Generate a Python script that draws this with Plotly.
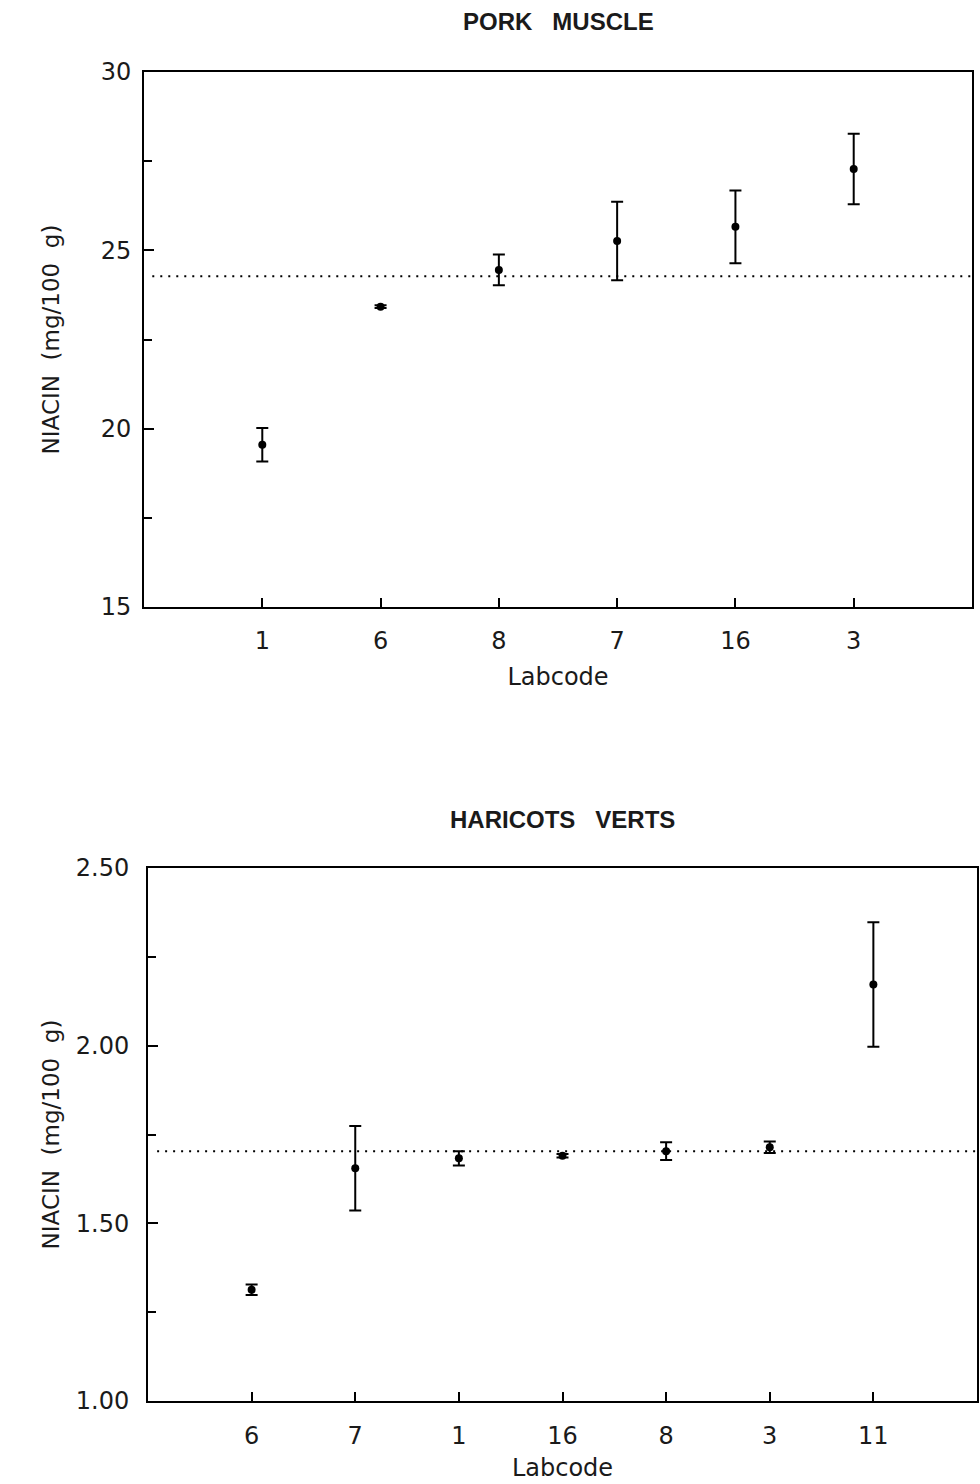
import plotly.graph_objects as go

# ---- data: PORK MUSCLE ----
pork_labs = ["1", "6", "8", "7", "16", "3"]
pork_mean = [19.55, 23.42, 24.45, 25.26, 25.66, 27.28]
pork_err = [0.47, 0.04, 0.43, 1.10, 1.02, 0.99]
pork_overall = 24.27

# ---- data: HARICOTS VERTS ----
hv_labs = ["6", "7", "1", "16", "8", "3", "11"]
hv_mean = [1.313, 1.655, 1.683, 1.690, 1.703, 1.714, 2.172]
hv_err = [0.015, 0.119, 0.020, 0.005, 0.025, 0.016, 0.175]
hv_overall = 1.703

W, H = 980, 1484
FONT = "DejaVu Sans, sans-serif"
TFONT = "Liberation Sans, Arial, sans-serif"
INK = "#1a1a1a"

fig = go.Figure()

fig.add_trace(go.Scatter(
    x=pork_labs, y=pork_mean, mode="markers", xaxis="x", yaxis="y",
    marker=dict(color="black", size=8),
    error_y=dict(type="data", array=pork_err, visible=True, color="black",
                 thickness=2, width=6),
    showlegend=False))

fig.add_trace(go.Scatter(
    x=hv_labs, y=hv_mean, mode="markers", xaxis="x2", yaxis="y2",
    marker=dict(color="black", size=8),
    error_y=dict(type="data", array=hv_err, visible=True, color="black",
                 thickness=2, width=6),
    showlegend=False))

# overall mean reference lines
fig.add_shape(type="line", xref="x domain", yref="y", x0=0.01, x1=1,
              y0=pork_overall, y1=pork_overall,
              line=dict(color="black", width=2, dash="2px,6px"))
fig.add_shape(type="line", xref="x2 domain", yref="y2", x0=0.011, x1=1,
              y0=hv_overall, y1=hv_overall,
              line=dict(color="black", width=2, dash="2px,6px"))

axis_common = dict(showline=True, linecolor="black", linewidth=2, mirror=True,
                   showgrid=False, zeroline=False, ticks="inside",
                   tickcolor="black", tickwidth=2, automargin=False,
                   tickfont=dict(family=FONT, size=24, color=INK))

def yd(top, bottom):
    return [1 - bottom / H, 1 - top / H]

ytitle = "NIACIN\u00a0\u00a0(mg/100\u00a0\u00a0g)"

fig.update_layout(
    width=W, height=H, margin=dict(l=0, r=0, t=0, b=0, autoexpand=False),
    paper_bgcolor="white", plot_bgcolor="white",
    xaxis=dict(axis_common, domain=[144 / W, 972 / W], anchor="y",
               type="category", categoryorder="array", categoryarray=pork_labs,
               range=[-1, len(pork_labs)], ticklen=9, ticklabelstandoff=11,
               title=dict(text="Labcode", standoff=14,
                          font=dict(family=FONT, size=24, color=INK))),
    yaxis=dict(axis_common, domain=yd(72, 607), anchor="x",
               range=[15, 30], tickvals=[15, 20, 25, 30], ticklen=10,
               ticklabelstandoff=6,
               minor=dict(tickvals=[17.5, 22.5, 27.5], ticks="inside",
                          ticklen=8, tickcolor="black", tickwidth=2),
               title=dict(text=ytitle, standoff=35,
                          font=dict(family=FONT, size=23, color=INK))),
    xaxis2=dict(axis_common, domain=[148 / W, 977 / W], anchor="y2",
                type="category", categoryorder="array", categoryarray=hv_labs,
                range=[-1, len(hv_labs)], ticklen=9, ticklabelstandoff=12,
                title=dict(text="Labcode", standoff=10,
                           font=dict(family=FONT, size=24, color=INK))),
    yaxis2=dict(axis_common, domain=yd(868, 1401), anchor="x2",
                range=[1.0, 2.5], tickvals=[1.0, 1.5, 2.0, 2.5],
                tickformat=".2f", ticklen=10, ticklabelstandoff=12,
                minor=dict(tickvals=[1.25, 1.75, 2.25], ticks="inside",
                           ticklen=8, tickcolor="black", tickwidth=2),
                title=dict(text=ytitle, standoff=10,
                           font=dict(family=FONT, size=23, color=INK))),
    annotations=[
        dict(text="<b>PORK\u00a0\u00a0\u00a0MUSCLE</b>", xref="paper", yref="paper",
             x=(144 + 972) / 2 / W, y=1 - 22 / H, xanchor="center", yanchor="middle",
             showarrow=False, font=dict(family=TFONT, size=24, color=INK)),
        dict(text="<b>HARICOTS\u00a0\u00a0\u00a0VERTS</b>", xref="paper", yref="paper",
             x=(148 + 977) / 2 / W, y=1 - 819 / H, xanchor="center", yanchor="middle",
             showarrow=False, font=dict(family=TFONT, size=24, color=INK)),
    ],
)

fig.write_html("out.html", config={"displayModeBar": False},
               post_script="document.body.style.margin='0';"
                           "document.body.style.overflow='hidden';")
